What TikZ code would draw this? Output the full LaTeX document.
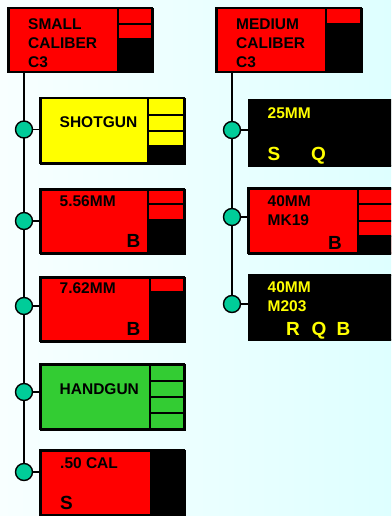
\documentclass[tikz,border=0pt]{standalone}
\usepackage{fontspec}
\setmainfont{Liberation Sans}[BoldFont={Liberation Sans Bold}]
\newfontfamily\lbf{Liberation Sans Bold}
\definecolor{bgl}{RGB}{248,255,255}
\definecolor{bgr}{RGB}{222,255,255}
\definecolor{dotc}{RGB}{0,204,153}
\definecolor{grn}{RGB}{51,204,51}
\definecolor{ylw}{RGB}{255,255,0}
\definecolor{rd}{RGB}{255,0,0}
\tikzset{
  box/.style={draw=black, line width=1.5pt, rectangle, inner sep=0pt, anchor=north west},
  cell/.style={draw=black, line width=1.5pt},
  dot/.style={circle, draw=black, line width=1.4pt, fill=dotc, minimum size=17pt, inner sep=0pt},
  conn/.style={draw=black, line width=1.6pt},
  lbl/.style={anchor=base west, inner sep=0pt, font=\lbf\fontsize{15.5}{18}\selectfont},
  big/.style={anchor=base west, inner sep=0pt, font=\lbf\fontsize{19}{22}\selectfont},
}
\begin{document}
\begin{tikzpicture}[x=1pt,y=-1pt]
\useasboundingbox (0,0) rectangle (391,516);
\shade[left color=bgl, right color=bgr] (0,0) rectangle (391,516);
\clip (0,0) rectangle (391,516);

% ---------- left column ----------
\node[box, fill=rd, minimum width=144pt, minimum height=64pt] (sc) at (8,8) {};
\fill[black] (118,39) rectangle (152,72);
\draw[cell] (118,8) -- (118,72);
\draw[cell] (118,24) -- (152,24);
\draw[cell] (118,39) -- (152,39);
\draw[line width=1.5pt] (8,8) rectangle (152,72);
\node[lbl] (sct1) at (28,30) {SMALL};
\node[lbl] (sct2) at (28,48.5) {CALIBER};
\node[lbl] (sct3) at (28,68) {C3};

% shotgun
\node[box, fill=ylw, minimum width=144pt, minimum height=65pt] (sg) at (40,98) {};
\fill[black] (148,146) rectangle (184,163);
\draw[cell] (148,98) -- (148,163);
\draw[cell] (148,115) -- (184,115);
\draw[cell] (148,131) -- (184,131);
\draw[cell] (148,146) -- (184,146);
\draw[line width=1.5pt] (40,98) rectangle (184,163);
\node[lbl] (sgt) at (59.5,128) {SHOTGUN};

% 5.56
\node[box, fill=rd, minimum width=144pt, minimum height=64pt] (f5) at (40,189) {};
\fill[black] (148,220) rectangle (184,253);
\draw[cell] (148,189) -- (148,253);
\draw[cell] (148,204) -- (184,204);
\draw[cell] (148,220) -- (184,220);
\draw[line width=1.5pt] (40,189) rectangle (184,253);
\node[lbl] (f5t) at (59.5,206.5) {5.56MM};
\node[big] (f5b) at (126.5,247) {B};

% 7.62
\node[box, fill=rd, minimum width=144pt, minimum height=64pt] (s7) at (40,277) {};
\fill[black] (150,292) rectangle (184,341);
\draw[cell] (150,277) -- (150,341);
\draw[cell] (150,292) -- (184,292);
\draw[line width=1.5pt] (40,277) rectangle (184,341);
\node[lbl] (s7t) at (59.5,293.5) {7.62MM};
\node[big] (s7b) at (126.5,335.5) {B};

% handgun
\node[box, fill=grn, minimum width=144pt, minimum height=65pt] (hg) at (40,364) {};
\draw[cell] (150,364) -- (150,429);
\draw[cell] (150,381) -- (184,381);
\draw[cell] (150,397) -- (184,397);
\draw[cell] (150,413) -- (184,413);
\draw[line width=1.5pt] (40,364) rectangle (184,429);
\node[lbl] (hgt) at (59.5,394) {HANDGUN};

% .50 cal
\node[box, fill=rd, minimum width=144pt, minimum height=65pt] (fc) at (40,450) {};
\fill[black] (150,450) rectangle (184,515);
\draw[line width=1.5pt] (40,450) rectangle (184,515);
\node[lbl] (fct) at (60,468) {.50 CAL};
\node[big] (fcs) at (60,509) {S};

% circles and connectors (left)
\coordinate (c1) at (24,129.5);
\coordinate (c2) at (24,221);
\coordinate (c3) at (24,306);
\coordinate (c4) at (24,392);
\coordinate (c5) at (24,472);
\draw[conn] (sc.south -| c1) -- (c5);
\draw[conn] (c1) -- (c1 -| sg.west);
\draw[conn] (c2) -- (c2 -| f5.west);
\draw[conn] (c3) -- (c3 -| s7.west);
\draw[conn] (c4) -- (c4 -| hg.west);
\draw[conn] (c5) -- (c5 -| fc.west);
\node[dot] (d1) at (c1) {};
\node[dot] (d2) at (c2) {};
\node[dot] (d3) at (c3) {};
\node[dot] (d4) at (c4) {};
\node[dot] (d5) at (c5) {};

% ---------- right column ----------
\node[box, fill=rd, minimum width=145pt, minimum height=64pt] (mc) at (216,8) {};
\fill[black] (326,24) rectangle (361,72);
\draw[cell] (326,8) -- (326,72);
\draw[cell] (326,24) -- (361,24);
\draw[line width=1.5pt] (216,8) rectangle (361,72);
\node[lbl] (mct1) at (236,30) {MEDIUM};
\node[lbl] (mct2) at (236,48.5) {CALIBER};
\node[lbl] (mct3) at (236,68) {C3};

% 25mm
\node[box, fill=black, minimum width=146pt, minimum height=66pt] (tf) at (248,99) {};
\node[lbl, text=ylw] (tft) at (267.5,118) {25MM};
\node[big, text=ylw] (tfs) at (267.5,160) {S};
\node[big, text=ylw] (tfq) at (311,160) {Q};

% 40mm mk19
\node[box, fill=rd, minimum width=146pt, minimum height=65pt] (mk) at (248,188) {};
\fill[black] (358,236) rectangle (394,253);
\draw[cell] (358,188) -- (358,253);
\draw[cell] (358,204) -- (394,204);
\draw[cell] (358,221) -- (394,221);
\draw[cell] (358,236) -- (394,236);
\draw[line width=1.5pt] (248,188) rectangle (394,253);
\node[lbl] (mkt1) at (267.5,206.5) {40MM};
\node[lbl] (mkt2) at (267.5,225.5) {MK19};
\node[big] (mkb) at (328,249) {B};

% 40mm m203
\node[box, fill=black, minimum width=146pt, minimum height=65pt] (mt) at (248,274) {};
\node[lbl, text=ylw] (mtt1) at (267.5,292.5) {40MM};
\node[lbl, text=ylw] (mtt2) at (267.5,311.5) {M203};
\node[big, text=ylw] (mtr) at (286,335.5) {R};
\node[big, text=ylw] (mtq) at (311.5,335.5) {Q};
\node[big, text=ylw] (mtb) at (336.5,335.5) {B};

% circles and connectors (right)
\coordinate (e1) at (232,130);
\coordinate (e2) at (232,217);
\coordinate (e3) at (232,304);
\draw[conn] (mc.south -| e1) -- (e3);
\draw[conn] (e1) -- (e1 -| tf.west);
\draw[conn] (e2) -- (e2 -| mk.west);
\draw[conn] (e3) -- (e3 -| mt.west);
\node[dot] (f1) at (e1) {};
\node[dot] (f2) at (e2) {};
\node[dot] (f3) at (e3) {};
\end{tikzpicture}
\end{document}
